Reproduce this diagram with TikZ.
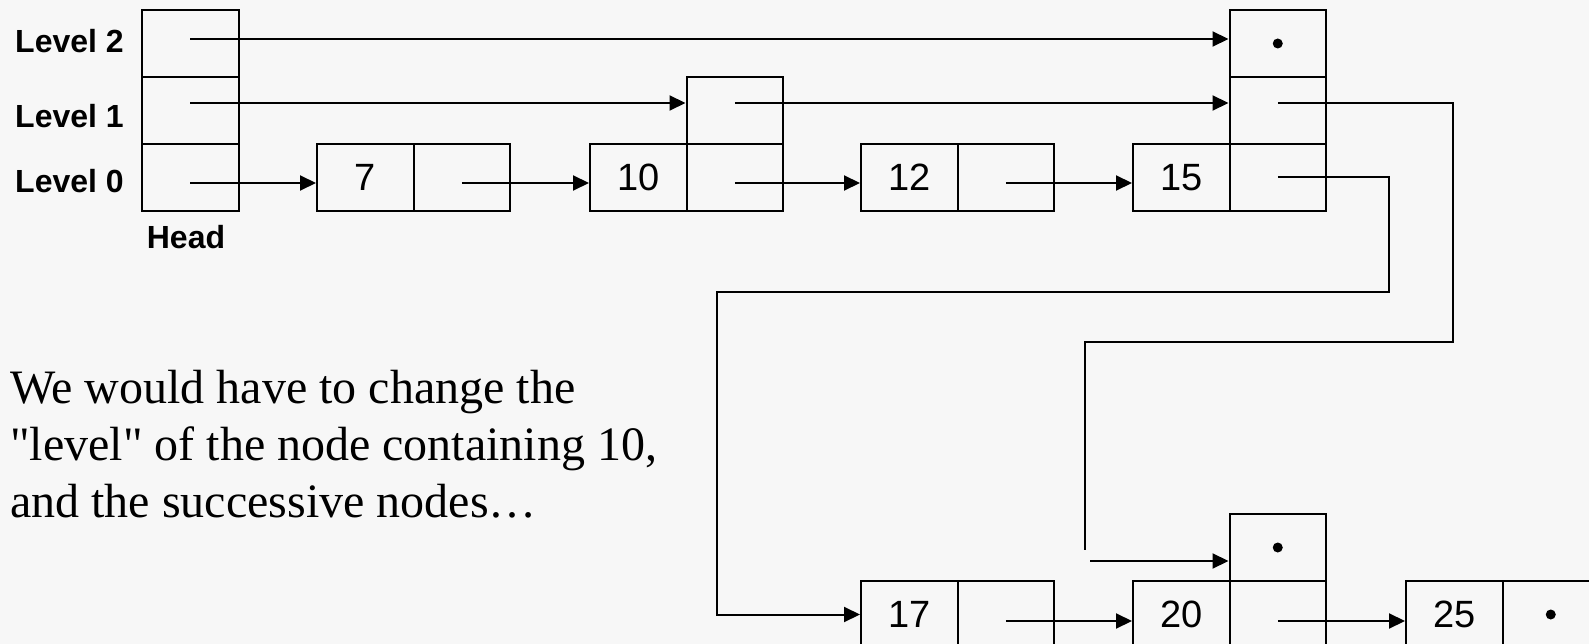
\documentclass[tikz,border=0pt]{standalone}
\usepackage{fontspec}
\setmainfont{Liberation Serif}[Ligatures=TeXOff]
\newfontfamily\arialf{Liberation Sans}
\usetikzlibrary{arrows.meta,calc}
\definecolor{bg}{HTML}{F7F7F7}
\begin{document}
\begin{tikzpicture}[x=1pt,y=-1pt,
 cell/.style={draw, line width=2pt, minimum width=96.5pt, minimum height=67pt, inner sep=0pt, anchor=north west, font=\arialf\fontsize{38}{40}\selectfont},
 arr/.style={line width=2pt, -{Triangle[length=16pt,width=15pt]}},
 ln/.style={line width=2pt},
 lbl/.style={font=\arialf\bfseries\fontsize{32}{36}\selectfont, inner sep=0pt},
 para/.style={font=\fontsize{48}{57}\selectfont, inner sep=0pt, anchor=base west},
 dotnode/.style={fill, circle, inner sep=0pt, minimum size=10pt}]
\fill[bg] (0,0) rectangle (1589,644);
\useasboundingbox (0,0) rectangle (1589,644);
\clip (0,0) rectangle (1589,644);
% head
\node[cell] (h2) at (141,9) {};
\node[cell] (h1) at (141,76) {};
\node[cell] (h0) at (141,143) {};
\node[lbl, anchor=west] (L2) at (15,41) {Level 2};
\node[lbl, anchor=west] (L1) at (15,116) {Level 1};
\node[lbl, anchor=west] (L0) at (15,181) {Level 0};
\node[lbl] (head) at (186,237) {Head};
% top row
\node[cell] (n7k) at (316,143) {7};
\node[cell] (n7p) at (412.5,143) {};
\node[cell] (n10k) at (589,143) {10};
\node[cell] (n10p) at (685.5,143) {};
\node[cell] (n10l1) at (685.5,76) {};
\node[cell] (n12k) at (860,143) {12};
\node[cell] (n12p) at (956.5,143) {};
\node[cell] (n15k) at (1132,143) {15};
\node[cell] (n15p) at (1228.5,143) {};
\node[cell] (n15l1) at (1228.5,76) {};
\node[cell] (n15l2) at (1228.5,9) {};
\node[dotnode] (d1) at (n15l2.center) {};
% bottom row
\node[cell] (n17k) at (860,580) {17};
\node[cell] (n17p) at (956.5,580) {};
\node[cell] (n20k) at (1132,580) {20};
\node[cell] (n20p) at (1228.5,580) {};
\node[cell] (n20l1) at (1228.5,513) {};
\node[dotnode] (d2) at (n20l1.center) {};
\node[cell] (n25k) at (1405,580) {25};
\node[cell] (n25p) at (1501.5,580) {};
\node[dotnode] (d3) at (n25p.center) {};
% level 2
\draw[arr] ([yshift=4.5pt]h2.center) -- ([yshift=4.5pt]n15l2.west);
% level 1
\draw[arr] ([yshift=7.5pt]h1.center) -- ([yshift=7.5pt]n10l1.west);
\draw[arr] ([yshift=7.5pt]n10l1.center) -- ([yshift=7.5pt]n15l1.west);
% level 0
\draw[arr] ([yshift=-5.5pt]h0.center) -- ([yshift=-5.5pt]n7k.west);
\draw[arr] ([yshift=-5.5pt]n7p.center) -- ([yshift=-5.5pt]n10k.west);
\draw[arr] ([yshift=-5.5pt]n10p.center) -- ([yshift=-5.5pt]n12k.west);
\draw[arr] ([yshift=-5.5pt]n12p.center) -- ([yshift=-5.5pt]n15k.west);
\draw[arr] ([yshift=-6.5pt]n17p.center) -- ([yshift=-6.5pt]n20k.west);
\draw[arr] ([yshift=-6.5pt]n20p.center) -- ([yshift=-6.5pt]n25k.west);
% long connectors
\coordinate (a2) at (1389,292);
\coordinate (a3) at (717,292);
\draw[arr] (n15p.center) -| (a2) -- (a3) |- (n17k.west);
\coordinate (b2) at (1453,342);
\coordinate (b3) at (1085,342);
\coordinate (b4) at (1085,550);
\draw[ln] ([yshift=7.5pt]n15l1.center) -| (b2) -- (b3) -- (b4);
\coordinate (b5) at (1090,561);
\draw[arr] (b5) -- (n20l1.west |- b5);
% text
\node[para] (t1) at (10,403) {We would have to change the};
\node[para] (t2) at (10,460) {"level" of the node containing 10,};
\node[para] (t3) at (10,517) {and the successive nodes…};
\end{tikzpicture}
\end{document}
